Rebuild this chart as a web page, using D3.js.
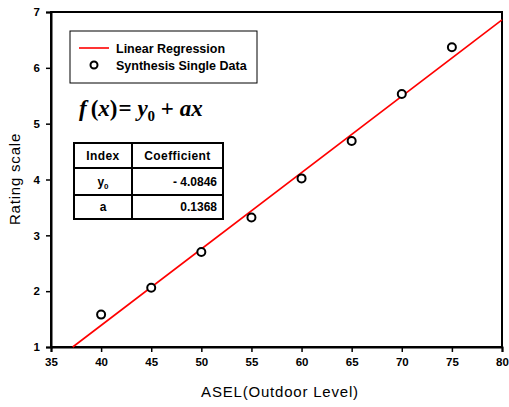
<!DOCTYPE html>
<html><head><meta charset="utf-8">
<script src="https://cdn.jsdelivr.net/npm/d3@7"></script>
<style>body{margin:0;background:#fff}svg text{font-family:Arial,"Liberation Sans",sans-serif}</style>
</head><body><svg id="c" width="509" height="407"></svg>
<script>
const xData = [40, 45, 50, 55, 60, 65, 70, 75];
const yData = [1.58, 2.06, 2.70, 3.32, 4.02, 4.69, 5.53, 6.37];
const intercept = -4.0846;
const slope = 0.1368;
const xTicks = [35, 40, 45, 50, 55, 60, 65, 70, 75, 80];
const yTicks = [1, 2, 3, 4, 5, 6, 7];
const tableRows = [["y0", "- 4.0846"], ["a", "0.1368"]];

const svg = d3.select("#c");
const L = 51, R = 502, T = 12, B = 347;
const x = d3.scaleLinear().domain([35, 80]).range([L, R]);
const y = d3.scaleLinear().domain([1, 7]).range([B, T]);

// frame
svg.append("rect").attr("x", L).attr("y", T).attr("width", R - L).attr("height", B - T)
  .attr("fill", "none").attr("stroke", "#000").attr("stroke-width", 2);

const xa = svg.append("g").attr("transform", `translate(0,${B})`)
  .call(d3.axisBottom(x).tickValues(xTicks).tickFormat(d3.format("d")).tickSize(5).tickPadding(6));
const ya = svg.append("g").attr("transform", `translate(${L},0)`)
  .call(d3.axisLeft(y).tickValues(yTicks).tickFormat(d3.format("d")).tickSize(5).tickPadding(6));
[xa, ya].forEach(g => {
  g.select(".domain").attr("stroke-width", 2);
  g.selectAll(".tick line").attr("stroke-width", 1.5);
  g.selectAll("text").attr("font-size", 11.5).attr("font-weight", "bold")
    .attr("font-family", "Arial, 'Liberation Sans', sans-serif");
});

// regression line
const x0 = (1 - intercept) / slope;
svg.append("line")
  .attr("x1", x(x0)).attr("y1", y(intercept + slope * x0))
  .attr("x2", x(80)).attr("y2", y(intercept + slope * 80))
  .attr("stroke", "#ff0000").attr("stroke-width", 1.6);

// points
svg.selectAll("circle.pt").data(xData).enter().append("circle")
  .attr("class", "pt")
  .attr("cx", d => x(d)).attr("cy", (d, i) => y(yData[i])).attr("r", 4)
  .attr("fill", "#fff").attr("stroke", "#000").attr("stroke-width", 2);

// legend
svg.append("rect").attr("x", 70).attr("y", 31).attr("width", 187).attr("height", 52)
  .attr("fill", "#fff").attr("stroke", "#000").attr("stroke-width", 1);
svg.append("line").attr("x1", 79).attr("x2", 109).attr("y1", 48).attr("y2", 48)
  .attr("stroke", "#ff0000").attr("stroke-width", 1.6);
svg.append("circle").attr("cx", 94).attr("cy", 65).attr("r", 3.5)
  .attr("fill", "#fff").attr("stroke", "#000").attr("stroke-width", 2);
svg.append("text").attr("x", 116).attr("y", 53).attr("font-size", 12.5).attr("font-weight", "bold")
  .text("Linear Regression");
svg.append("text").attr("x", 116).attr("y", 70).attr("font-size", 12.5).attr("font-weight", "bold")
  .text("Synthesis Single Data");

// formula
const f = svg.append("text").attr("x", 79).attr("y", 116)
  .style("font-family", "'Times New Roman','Liberation Serif',serif")
  .attr("font-size", 23).attr("font-weight", "bold").attr("font-style", "italic");
f.append("tspan").text("f");
f.append("tspan").attr("font-style", "normal").attr("dx", 4).text("(");
f.append("tspan").text("x");
f.append("tspan").attr("font-style", "normal").text(")");
f.append("tspan").attr("font-style", "normal").attr("dx", 1).text("= ");
f.append("tspan").text("y");
f.append("tspan").attr("font-style", "normal").attr("font-size", 15).attr("dy", 5).text("0");
f.append("tspan").attr("font-style", "normal").attr("dy", -5).text(" + ");
f.append("tspan").text("ax");

// table
const tx0 = 74, tx1 = 132, tx2 = 223;
const rowsY = [143, 168, 195, 219];
const tg = svg.append("g");
tg.append("rect").attr("x", tx0).attr("y", rowsY[0]).attr("width", tx2 - tx0).attr("height", rowsY[3] - rowsY[0])
  .attr("fill", "#fff").attr("stroke", "#000").attr("stroke-width", 2);
tg.append("line").attr("x1", tx1).attr("x2", tx1).attr("y1", rowsY[0]).attr("y2", rowsY[3])
  .attr("stroke", "#000").attr("stroke-width", 2);
[rowsY[1], rowsY[2]].forEach(yy => tg.append("line").attr("x1", tx0).attr("x2", tx2)
  .attr("y1", yy).attr("y2", yy).attr("stroke", "#000").attr("stroke-width", 2));
tg.append("text").attr("x", (tx0 + tx1) / 2).attr("y", 160).attr("text-anchor", "middle")
  .attr("font-size", 12).attr("font-weight", "bold").attr("letter-spacing", 0.4).text("Index");
tg.append("text").attr("x", (tx1 + tx2) / 2).attr("y", 160).attr("text-anchor", "middle")
  .attr("font-size", 12).attr("font-weight", "bold").attr("letter-spacing", 0.4).text("Coefficient");
tableRows.forEach((r, i) => {
  const by = (rowsY[i + 1] + rowsY[i + 2]) / 2 + 4;
  const t = tg.append("text").attr("x", (tx0 + tx1) / 2).attr("y", by).attr("text-anchor", "middle")
    .attr("font-size", 12).attr("font-weight", "bold");
  if (r[0] === "y0") {
    t.append("tspan").text("y");
    t.append("tspan").attr("font-size", 8).attr("dy", 3).text("0");
  } else t.text(r[0]);
  tg.append("text").attr("x", tx2 - 6).attr("y", by).attr("text-anchor", "end")
    .attr("font-size", 12).attr("font-weight", "bold").text(r[1]);
});

// axis titles
svg.append("text").attr("x", 280).attr("y", 397).attr("text-anchor", "middle")
  .attr("font-size", 15).attr("letter-spacing", 0.8).text("ASEL(Outdoor Level)");
svg.append("text").attr("transform", "translate(20,179) rotate(-90)").attr("text-anchor", "middle")
  .attr("font-size", 15).attr("letter-spacing", 0.8).text("Rating scale");
</script></body></html>
